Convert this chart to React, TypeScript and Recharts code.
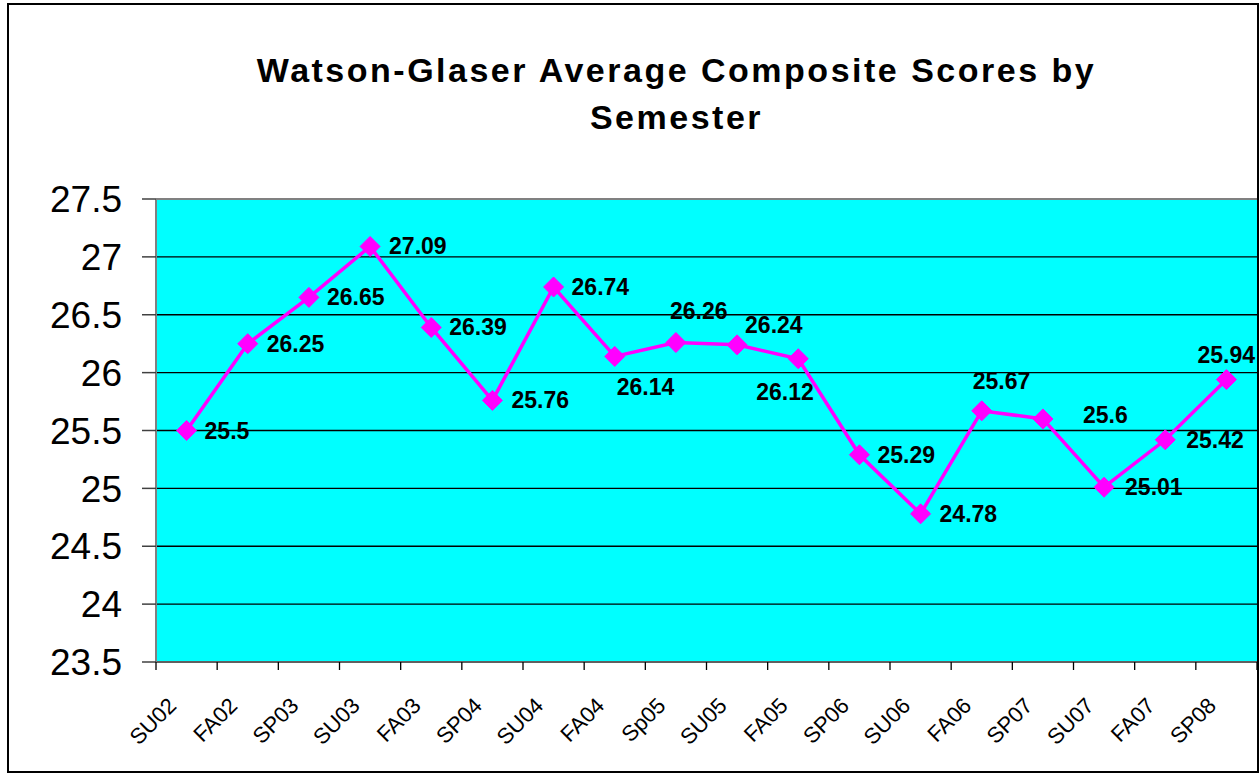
import React from 'react';
import { LineChart, Line, XAxis, YAxis, CartesianGrid, LabelList, ReferenceLine } from 'recharts';

const semesters = ['SU02', 'FA02', 'SP03', 'SU03', 'FA03', 'SP04', 'SU04', 'FA04', 'Sp05', 'SU05', 'FA05', 'SP06', 'SU06', 'FA06', 'SP07', 'SU07', 'FA07', 'SP08'];
const scores = [25.5, 26.25, 26.65, 27.09, 26.39, 25.76, 26.74, 26.14, 26.26, 26.24, 26.12, 25.29, 24.78, 25.67, 25.6, 25.01, 25.42, 25.94];
const yTicks = [23.5, 24, 24.5, 25, 25.5, 26, 26.5, 27, 27.5];

// label placement offsets (left edge dx, vertical-centre dy) relative to each marker
const labelOffsets: [number, number][] = [
  [18, 0], [19, 0], [18, 0], [19, 0], [18, 0], [19, 0], [18, 0],
  [2, 31], [-6, -32], [8, -20], [-42, 33], [18, 0], [19, 0],
  [-9, -30], [40, -4], [21, 0], [21, 0], [-29, -25],
];

const data = semesters.map((s, i) => ({ semester: s, score: scores[i] }));

const W = 1260;
const H = 774;
const PLOT_LEFT = 156;
const PLOT_RIGHT = 1257;
const PLOT_TOP = 199;
const PLOT_BOTTOM = 662;
const BAND = (PLOT_RIGHT - PLOT_LEFT) / semesters.length;
const FONT = '"Liberation Sans", Arial, Helvetica, sans-serif';

const XTick = (props: any) => {
  const { x, index, payload } = props;
  const left = x - BAND / 2;
  const right = x + BAND / 2;
  const tx = x - 9;
  const ty = PLOT_BOTTOM + 45;
  return (
    <g>
      <line x1={left} y1={PLOT_BOTTOM} x2={left} y2={PLOT_BOTTOM + 8} stroke="#000" strokeWidth={1.3} />
      {index === semesters.length - 1 && (
        <line x1={right} y1={PLOT_BOTTOM} x2={right} y2={PLOT_BOTTOM + 8} stroke="#000" strokeWidth={1.3} />
      )}
      <text
        x={tx}
        y={ty}
        textAnchor="end"
        fontFamily={FONT}
        fontSize={22}
        fill="#000"
        transform={`rotate(-45, ${tx}, ${ty})`}
      >
        {payload.value}
      </text>
    </g>
  );
};

const Diamond = (props: any) => {
  const { cx, cy, index } = props;
  const r = 10;
  return (
    <polygon
      key={`d-${index}`}
      points={`${cx},${cy - r} ${cx + r},${cy} ${cx},${cy + r} ${cx - r},${cy}`}
      fill="#FF00FF"
      stroke="#FF00FF"
    />
  );
};

const renderLabel = (props: any) => {
  const { x, y, value, index } = props;
  const off = labelOffsets[index] || [18, 0];
  return (
    <text
      key={`l-${index}`}
      x={x + off[0]}
      y={y + off[1] + 8}
      textAnchor="start"
      fontFamily={FONT}
      fontWeight="bold"
      fontSize={23}
      fill="#000"
    >
      {value}
    </text>
  );
};

export default function App() {
  return (
    <div style={{ position: 'fixed', left: 0, top: 0, width: W, height: H, background: '#fff', overflow: 'hidden' }}>
      <div
        style={{
          position: 'absolute',
          left: 7,
          top: 3,
          width: 1252,
          height: 770,
          border: '2px solid #000',
          boxSizing: 'border-box',
        }}
      />
      <div
        style={{
          position: 'absolute',
          left: 0,
          top: 47,
          width: 1353,
          textAlign: 'center',
          fontFamily: FONT,
          fontWeight: 'bold',
          fontSize: 34,
          letterSpacing: 2.5,
          lineHeight: '47px',
          color: '#000',
        }}
      >
        <div>Watson-Glaser Average Composite Scores by</div>
        <div>Semester</div>
      </div>
      <div style={{ position: 'absolute', left: 0, top: 0 }}>
        <LineChart
          width={W}
          height={H}
          data={data}
          margin={{ top: PLOT_TOP, right: W - PLOT_RIGHT, bottom: H - PLOT_BOTTOM - 90, left: PLOT_LEFT - 100 }}
        >
          <CartesianGrid vertical={false} stroke="#000" strokeWidth={1.3} fill="#00FFFF" fillOpacity={1} />
          <ReferenceLine y={27.5} stroke="#808080" strokeWidth={2} ifOverflow="visible" />
          <XAxis
            dataKey="semester"
            scale="band"
            interval={0}
            height={90}
            tickLine={false}
            axisLine={{ stroke: '#606060', strokeWidth: 2 }}
            tick={<XTick />}
          />
          <YAxis
            type="number"
            domain={[23.5, 27.5]}
            ticks={yTicks}
            interval={0}
            width={100}
            tickSize={14}
            tickMargin={20}
            tickLine={{ stroke: '#404040', strokeWidth: 1.5 }}
            axisLine={{ stroke: '#808080', strokeWidth: 2 }}
            tick={{ fontFamily: FONT, fontSize: 37, fill: '#000' }}
            allowDataOverflow
          />
          <Line
            type="linear"
            dataKey="score"
            stroke="#FF00FF"
            strokeWidth={3.5}
            dot={Diamond}
            activeDot={false}
            isAnimationActive={false}
          >
            <LabelList dataKey="score" content={renderLabel} />
          </Line>
        </LineChart>
      </div>
    </div>
  );
}
